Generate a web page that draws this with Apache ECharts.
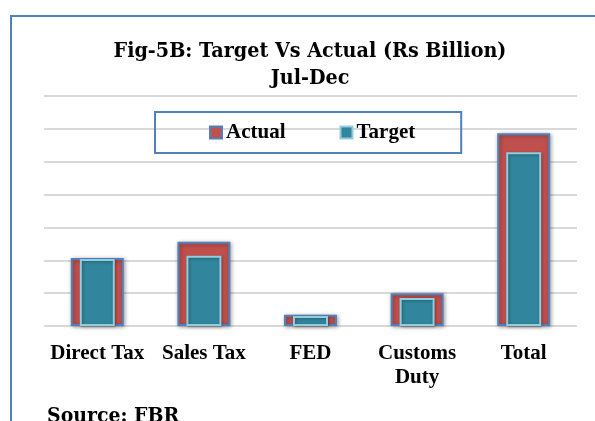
<!DOCTYPE html>
<html>
<head>
<meta charset="utf-8">
<script src="https://cdn.jsdelivr.net/npm/echarts@6/dist/echarts.min.js"></script>
<style>
	html, body { margin: 0; padding: 0; background: #fff; }
	#chartId { width: 595px; height: 421px; }
</style>
</head>
<body>
<div id="chartId"></div>
<script>
// categories and values (Rs billion)
var categories = ['Direct Tax', 'Sales Tax', 'FED', 'Customs\nDuty', 'Total'];
var actualData = [414, 513, 69, 199, 1173];
var targetData = [408, 428, 61, 170, 1057];
var seriesNames = ['Actual', 'Target'];

var fig = {
	init: function(){
		var myChart = echarts.init(document.getElementById('chartId'), null, {renderer: 'canvas'});
		myChart.setOption(fig.getOption());
	},
	getOption: function(){
		var serif = '"Liberation Serif", "Times New Roman", serif';
		var titleFont = '"DejaVu Serif Condensed", "DejaVu Serif", serif';

		var option = {
			animation: false,
			backgroundColor: '#fff',
			title: {
				text: 'Fig-5B: Target Vs Actual (Rs Billion)\nJul-Dec',
				left: 310,
				top: 38,
				textAlign: 'center',
				padding: 0,
				textStyle: {
					fontFamily: titleFont,
					fontWeight: 'bold',
					fontSize: 21.3,
					lineHeight: 27,
					color: '#000'
				}
			},
			legend: {
				data: seriesNames,
				left: 155,
				top: 112,
				padding: [10, 46, 10, 54],
				itemGap: 54,
				itemWidth: 12,
				itemHeight: 12,
				icon: 'rect',
				borderColor: '#4F81BD',
				borderWidth: 2,
				textStyle: {
					fontFamily: serif,
					fontWeight: 'bold',
					fontSize: 21,
					color: '#000',
					padding: [0, 0, 0, -1]
				}
			},
			grid: {
				left: 44,
				right: 18,
				top: 96,
				bottom: 95
			},
			xAxis: [
				{
					type: 'category',
					data: categories,
					axisLine: {show: false},
					axisTick: {show: false},
					axisLabel: {
						interval: 0,
						margin: 16,
						fontFamily: serif,
						fontWeight: 'bold',
						fontSize: 21,
						lineHeight: 24,
						color: '#000'
					}
				},
				{
					type: 'category',
					data: categories,
					show: false
				}
			],
			yAxis: {
				type: 'value',
				min: 0,
				max: 1400,
				interval: 200,
				axisLabel: {show: false},
				axisLine: {show: false},
				axisTick: {show: false},
				splitLine: {lineStyle: {color: '#D9D9D9', width: 2}}
			},
			graphic: [
				{
					type: 'rect',
					shape: {x: 11, y: 16, width: 600, height: 420},
					style: {fill: 'none', stroke: '#4F81BD', lineWidth: 2},
					silent: true
				},
				{
					type: 'text',
					left: 47,
					top: 406,
					style: {
						text: 'Source: FBR',
						font: 'bold 21px ' + titleFont,
						fill: '#000'
					}
				}
			],
			series: [
				{
					name: seriesNames[0],
					type: 'bar',
					xAxisIndex: 0,
					barWidth: 53,
					data: actualData,
					itemStyle: {
						color: '#C0504D',
						borderColor: '#4F81BD',
						borderWidth: 2,
						shadowBlur: 4,
						shadowColor: 'rgba(0,0,0,0.35)',
						shadowOffsetX: 1,
						shadowOffsetY: 1
					}
				},
				{
					name: seriesNames[1],
					type: 'bar',
					xAxisIndex: 1,
					barWidth: 35,
					data: targetData,
					itemStyle: {
						color: '#31859C',
						borderColor: '#93CDDD',
						borderWidth: 2,
						shadowBlur: 3,
						shadowColor: 'rgba(0,0,0,0.3)',
						shadowOffsetX: 1,
						shadowOffsetY: 1
					}
				}
			]
		};

		return option;
	}
};

fig.init();
</script>
</body>
</html>
